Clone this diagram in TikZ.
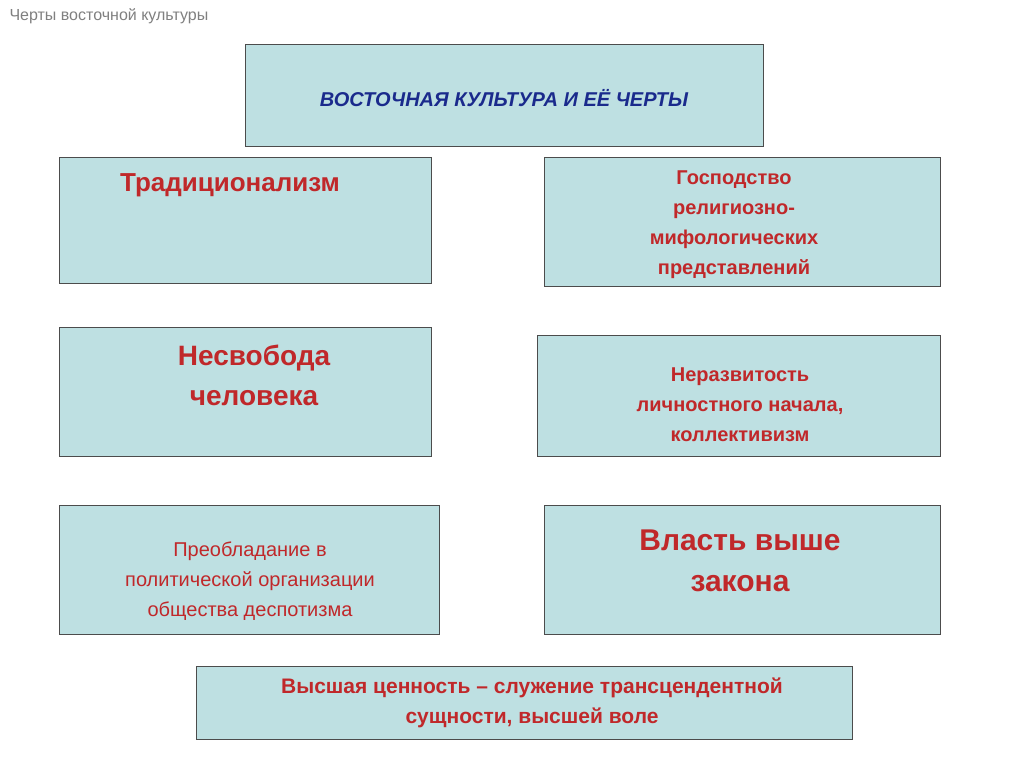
\documentclass[tikz,border=0pt]{standalone}
\usepackage{fontspec}
\setmainfont{Liberation Sans}
\definecolor{boxfill}{HTML}{BEE0E2}
\definecolor{redtxt}{HTML}{C0282A}
\definecolor{bluetxt}{HTML}{1A2A8C}
\begin{document}
\begin{tikzpicture}[x=1pt,y=-1pt,
  box/.style={draw=black!70,line width=0.8pt,fill=boxfill},
  rt/.style={text=redtxt,font=\bfseries,align=center}]
\useasboundingbox (0,0) rectangle (1024,767);
\fill[white] (0,0) rectangle (1024,767);
\node[anchor=west,text=gray,font=\fontsize{16}{18}\selectfont] (hdr) at (6,16) {Черты восточной культуры};
\draw[box] (245,44) rectangle (763,146);
\node[text=bluetxt,font=\fontsize{20}{24}\selectfont\bfseries\itshape] (t) at (504,98) {ВОСТОЧНАЯ КУЛЬТУРА И ЕЁ ЧЕРТЫ};
\draw[box] (59,157) rectangle (431,283);
\node[rt,font=\fontsize{26}{30}\selectfont\bfseries] (a) at (230,185) {Традиционализм};
\draw[box] (544,157) rectangle (940,286);
\node[rt,font=\fontsize{20}{30}\selectfont\bfseries] (b) at (734,225) {Господство\\религиозно-\\мифологических\\представлений};
\draw[box] (59,327) rectangle (431,456);
\node[rt,font=\fontsize{28}{40}\selectfont\bfseries] (c) at (254,375) {Несвобода\\человека};
\draw[box] (537,335) rectangle (940,456);
\node[rt,font=\fontsize{20}{30}\selectfont\bfseries] (d) at (740,405) {Неразвитость\\личностного начала,\\коллективизм};
\draw[box] (59,505) rectangle (439,634);
\node[text=redtxt,align=center,font=\fontsize{20}{30}\selectfont] (e) at (250,581) {Преобладание в\\политической организации\\общества деспотизма};
\draw[box] (544,505) rectangle (940,634);
\node[rt,font=\fontsize{30}{41}\selectfont\bfseries] (f) at (740,561) {Власть выше\\закона};
\draw[box] (196,666) rectangle (852,739);
\node[rt,font=\fontsize{21}{30}\selectfont\bfseries] (g) at (532,703) {Высшая ценность – служение трансцендентной\\сущности, высшей воле};
\end{tikzpicture}
\end{document}
